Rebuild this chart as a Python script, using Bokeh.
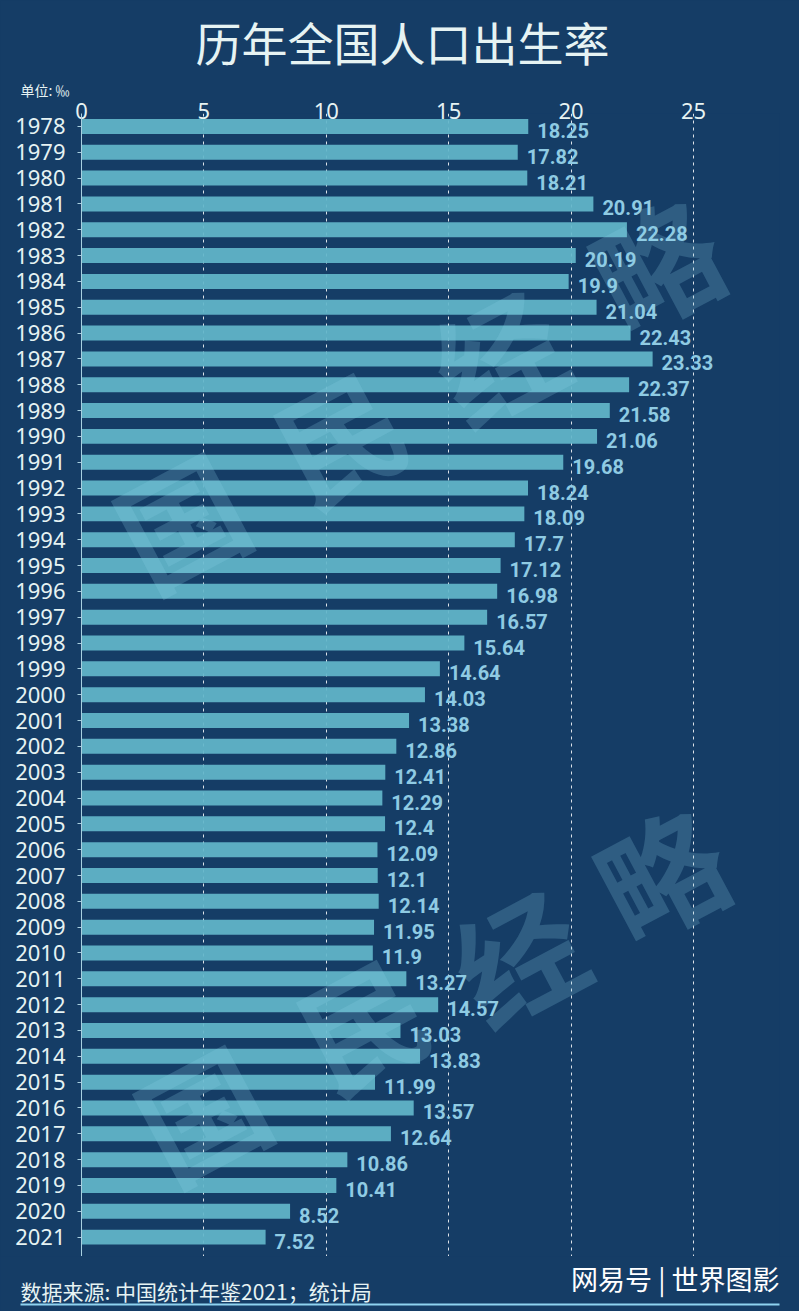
import math
from bokeh.plotting import figure
from bokeh.layouts import column, row
from bokeh.models import ColumnDataSource, Range1d, FixedTicker, Label, Title
from bokeh.core.properties import value
from bokeh.embed import file_html
from bokeh.resources import INLINE

# ---------------- data ----------------
years = list(range(1978, 2022))
rates = [18.25, 17.82, 18.21, 20.91, 22.28, 20.19, 19.9, 21.04, 22.43, 23.33,
         22.37, 21.58, 21.06, 19.68, 18.24, 18.09, 17.7, 17.12, 16.98, 16.57,
         15.64, 14.64, 14.03, 13.38, 12.86, 12.41, 12.29, 12.4, 12.09, 12.1,
         12.14, 11.95, 11.9, 13.27, 14.57, 13.03, 13.83, 11.99, 13.57, 12.64,
         10.86, 10.41, 8.52, 7.52]
x_ticks = [0, 5, 10, 15, 20, 25]
grid_ticks = [5, 10, 15, 20, 25]
title_text = "历年全国人口出生率"
unit_text = "单位: ‰"
source_text = "数据来源: 中国统计年鉴2021；统计局"
brand_text = "网易号 | 世界图影"
watermark_chars = ["国", "民", "经", "略"]

# ---------------- style ----------------
BG = "#153d66"
BAR = "#62b6c9"
VAL = "#8fcbe3"
TXT = "#e6f3f3"
CJK = "Noto Sans CJK SC"

W = 799
ML, MR, MT = 81, 20, 113
ROW = 25.82                      # px per year row
BOTTOM_PAD_ROWS = 0.25           # a little room below the last bar for its label
frame_bottom = MT + ROW * (len(years) + BOTTOM_PAD_ROWS)
MAIN_H = int(round(frame_bottom))
MB = 0
FOOT_H = 1311 - MAIN_H
frame_w = W - ML - MR
px_per_unit = (693 - 81) / 25.0

src = ColumnDataSource(dict(
    year=years,
    rate=rates,
    label=[f"{v:g}" for v in rates],
))

p = figure(width=W, height=MAIN_H,
           x_range=Range1d(0, frame_w / px_per_unit),
           y_range=Range1d(years[-1] + 0.5 + BOTTOM_PAD_ROWS, years[0] - 0.5),
           x_axis_location="above",
           output_backend="svg", toolbar_location=None,
           min_border_left=ML, min_border_right=MR,
           min_border_top=MT, min_border_bottom=MB)

p.background_fill_color = BG
p.border_fill_color = BG
p.outline_line_color = None
p.styles = {"background-color": BG}

# grid
p.ygrid.grid_line_color = None
p.xgrid.ticker = FixedTicker(ticks=grid_ticks)
p.xgrid.grid_line_color = "white"
p.xgrid.grid_line_alpha = 0.85
p.xgrid.grid_line_dash = "3 4"
p.xgrid.grid_line_width = 1

# bars
p.hbar(y="year", right="rate", left=0, height=0.58, source=src,
       fill_color=BAR, fill_alpha=0.93, line_color=None)

# value labels
p.text(x="rate", y="year", text="label", source=src,
       x_offset=9, y_offset=4, text_baseline="middle", text_align="left",
       text_font=value("Roboto"), text_font_style="bold",
       text_font_size="20px", text_color=VAL)

# x axis (top)
xa = p.xaxis[0]
xa.ticker = FixedTicker(ticks=x_ticks)
xa.axis_line_color = None
xa.major_tick_line_color = None
xa.minor_tick_line_color = None
xa.major_tick_out = 0
xa.major_tick_in = 0
xa.major_label_standoff = -5
xa.major_label_text_font = "Noto Sans"
xa.major_label_text_font_size = "22px"
xa.major_label_text_color = TXT

# y axis (left)
ya = p.yaxis[0]
ya.ticker = FixedTicker(ticks=years)
ya.major_label_overrides = {y: str(y) for y in years}
ya.axis_line_color = "#a8d0e0"
ya.axis_line_width = 1
ya.major_tick_line_color = "#a8d0e0"
ya.major_tick_out = 4
ya.major_tick_in = 0
ya.minor_tick_line_color = None
ya.major_label_standoff = 12
ya.major_label_text_font = "Noto Sans"
ya.major_label_text_font_size = "22px"
ya.major_label_text_color = TXT

# unit note (above the axis) and title (outermost)
p.add_layout(Title(text=unit_text, align="left", offset=-61,
                   text_font=CJK, text_font_size="14px",
                   text_font_style="normal", text_color=TXT, standoff=0), "above")
p.title.text = title_text
p.title.align = "left"
p.title.offset = 195 - ML
p.title.standoff = 8
p.title.text_font = CJK
p.title.text_font_size = "46px"
p.title.text_font_style = "normal"
p.title.text_color = TXT


def to_screen(px, py):
    return px - ML, (MAIN_H - MB) - py


# watermark characters
wm_sets = [[(179, 517), (337, 433), (496, 353), (654, 260)],
           [(200, 1110), (360, 1020), (516, 953), (659, 870)]]
for pts in wm_sets:
    for ch, (px, py) in zip(watermark_chars, pts):
        sx, sy = to_screen(px, py)
        p.add_layout(Label(x=sx, y=sy, x_units="screen", y_units="screen",
                           text=ch, angle=math.radians(28),
                           text_align="center", text_baseline="middle",
                           text_font=CJK, text_font_style="bold",
                           text_font_size="125px", text_color="#8fd0e6",
                           text_alpha=0.22))

# ---------------- footer ----------------
f = figure(width=W, height=FOOT_H, x_range=Range1d(0, W), y_range=Range1d(FOOT_H, 0),
           x_axis_type=None, y_axis_type=None,
           output_backend="svg", toolbar_location=None, min_border=0)
f.background_fill_color = BG
f.border_fill_color = BG
f.outline_line_color = None
f.grid.visible = False
f.styles = {"background-color": BG}
top = MAIN_H
f.text(x=[20], y=[1290 - top], text=[source_text], text_align="left", text_baseline="middle",
       text_font=value(CJK), text_font_size="21px", text_color=TXT)
f.text(x=[779], y=[1278 - top], text=[brand_text], text_align="right", text_baseline="middle",
       text_font=value(CJK), text_font_size="27px", text_color="white")
f.segment(x0=[20], y0=[1304 - top], x1=[779], y1=[1304 - top],
          line_color="#8fd3f0", line_width=2)

layout = column(p, row(f, styles={"background-color": BG}), spacing=0,
                styles={"background-color": BG})
open("out.html", "w").write(file_html(layout, INLINE))
